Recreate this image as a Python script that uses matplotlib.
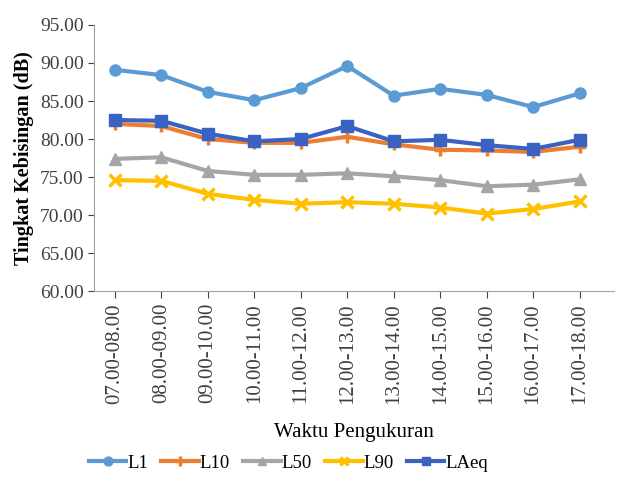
import matplotlib.pyplot as plt
from matplotlib.ticker import FormatStrFormatter

plt.rcParams['font.family'] = ['Liberation Serif', 'DejaVu Serif']

times = ['07.00-08.00', '08.00-09.00', '09.00-10.00', '10.00-11.00', '11.00-12.00',
         '12.00-13.00', '13.00-14.00', '14.00-15.00', '15.00-16.00', '16.00-17.00',
         '17.00-18.00']
L1 = [89.1, 88.4, 86.2, 85.1, 86.7, 89.6, 85.7, 86.6, 85.8, 84.2, 86.0]
L10 = [82.0, 81.7, 80.0, 79.5, 79.5, 80.3, 79.3, 78.6, 78.5, 78.3, 79.0]
L50 = [77.4, 77.6, 75.8, 75.3, 75.3, 75.5, 75.1, 74.6, 73.8, 74.0, 74.7]
L90 = [74.6, 74.5, 72.8, 72.0, 71.5, 71.7, 71.5, 71.0, 70.2, 70.8, 71.8]
LAeq = [82.5, 82.4, 80.7, 79.7, 80.0, 81.7, 79.7, 79.9, 79.2, 78.7, 79.9]

series = [
    ('L1', L1, '#5B9BD5', 'o', 8),
    ('L10', L10, '#ED7D31', '+', 9),
    ('L50', L50, '#A5A5A5', '^', 8),
    ('L90', L90, '#FFC000', 'x', 8),
    ('LAeq', LAeq, '#3A62C0', 's', 8),
]

fig = plt.figure(figsize=(6.27, 4.79), dpi=100)
ax = fig.add_axes([0.15, 0.392, 0.83, 0.556])
x = list(range(len(times)))
for name, vals, col, mk, ms in series:
    ax.plot(x, vals, color=col, marker=mk, markersize=ms, linewidth=3,
            markeredgewidth=2.5 if mk in '+x' else 1, label=name)

ax.set_ylim(60, 95)
ax.set_yticks(range(60, 96, 5))
ax.yaxis.set_major_formatter(FormatStrFormatter('%.2f'))
ax.set_xlim(-0.45, len(times) - 0.25)
ax.set_xticks(x)
ax.set_xticklabels(times, rotation=90, fontsize=15)
ax.tick_params(axis='y', labelsize=14, colors='#404040', length=4)
ax.tick_params(axis='x', colors='#404040', length=5)
for s in ['top', 'right']:
    ax.spines[s].set_visible(False)
for s in ['left', 'bottom']:
    ax.spines[s].set_color('#A0A0A0')
ax.set_ylabel('Tingkat Kebisingan (dB)', fontsize=14.5, fontweight='bold')
ax.set_xlabel('Waktu Pengukuran', fontsize=15, labelpad=14)
fig.legend(loc='lower center', ncol=5, frameon=False, fontsize=13.5,
           bbox_to_anchor=(0.46, -0.02), handlelength=2.0, handletextpad=0.05,
           columnspacing=0.7, markerscale=0.8)
fig.savefig('out.png', dpi=100)
